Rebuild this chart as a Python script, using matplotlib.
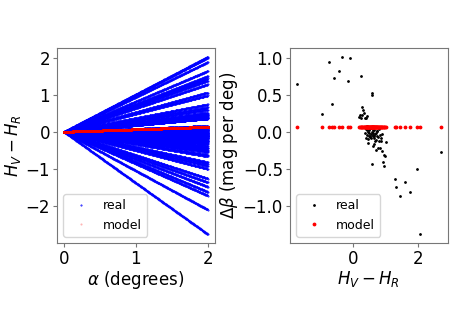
import numpy as np
import matplotlib
matplotlib.use("Agg")
import matplotlib.pyplot as plt

# colour index H_V - H_R of each object (right panel x)
color_vr = [-1.71, -0.93, -0.72, -0.62, -0.58, -0.41, -0.34, -0.15, -0.08, 0.26,
            0.60, 0.58, 2.70, 1.97, 1.29, 1.62, 1.34, 1.75, 1.45, 2.07,
            0.59, 0.97, 0.92, 0.96, 0.99, 0.90, 1.03, 0.85, 0.72, 0.67,
            0.46, 0.68, 0.64, 0.81, 0.88, 0.78,
            0.20, 0.24, 0.28, 0.32, 0.35, 0.30, 0.38, 0.42, 0.25, 0.44,
            0.36, 0.40, 0.45, 0.50, 0.55, 0.60, 0.65, 0.70, 0.75, 0.80,
            0.38, 0.43, 0.48, 0.52, 0.57, 0.62, 0.67, 0.72, 0.78, 0.84,
            0.41, 0.46, 0.51, 0.56, 0.61, 0.66, 0.71, 0.76, 0.86, 0.90,
            0.44, 0.49, 0.54, 0.59, 0.64, 0.69, 0.74, 0.53, 0.58, 0.63]
# slope difference delta beta (mag per deg)
dbeta = [0.64, 0.24, 0.94, 0.37, 0.72, 0.82, 1.01, 0.69, 1.00, 0.75,
         0.53, 0.49, -0.27, -0.50, -0.63, -0.68, -0.74, -0.81, -0.86, -1.38,
         -0.43, -0.46, -0.41, -0.31, -0.33, -0.26, -0.14, -0.22, -0.25, -0.17,
         -0.15, -0.12, -0.19, -0.12, -0.13, -0.22,
         0.20, 0.23, 0.33, 0.30, 0.26, 0.22, 0.19, 0.18, 0.18, 0.21,
         0.06, 0.04, 0.08, 0.02, 0.05, 0.07, 0.03, 0.06, 0.01, 0.04,
         -0.02, -0.04, 0.00, -0.06, -0.03, -0.01, -0.05, -0.02, -0.07, -0.04,
         -0.08, -0.10, -0.06, -0.09, -0.04, -0.08, -0.11, -0.05, -0.09, -0.03,
         0.02, -0.01, 0.05, 0.00, 0.03, -0.03, 0.01, -0.07, 0.07, -0.05]
# extra slope seen only in the left panel
extra_slopes = [-1.05]
# model slope difference
model_dbeta = 0.066

alpha = np.linspace(0, 2, 400)
slopes = list(dbeta) + extra_slopes

plt.rcParams['font.family'] = 'DejaVu Sans'
fig = plt.figure(figsize=(4.63, 3.27), dpi=100)
ax1 = fig.add_axes([0.123, 0.257, 0.341, 0.596])
ax2 = fig.add_axes([0.626, 0.257, 0.341, 0.596])

FS = 12
LFS = 9

for i, s in enumerate(slopes):
    ax1.plot(alpha, s * alpha, 'b.', ms=0.9, label='real' if i == 0 else None)
for i in range(len(dbeta)):
    ax1.plot(alpha, model_dbeta * alpha, 'r.', ms=1.0, alpha=0.3,
             label='model' if i == 0 else None)
ax1.set_xlabel(r'$\alpha$ (degrees)', fontsize=FS, labelpad=1)
ax1.set_ylabel(r'$H_V - H_R$', fontsize=FS, labelpad=2)
ax1.set_xticks([0, 1, 2])
ax1.set_yticks([-2, -1, 0, 1, 2])
ax1.legend(loc='lower left', fontsize=LFS)

ax2.plot(color_vr, dbeta, 'k.', ms=2.0, label='real')
ax2.plot(color_vr, [model_dbeta] * len(color_vr), 'r.', ms=3.5, label='model')
ax2.set_xlabel(r'$H_V - H_R$', fontsize=FS, labelpad=1)
ax2.set_ylabel(r'$\Delta\beta$ (mag per deg)', fontsize=FS, labelpad=2)
ax2.set_xticks([0, 2])
ax2.set_yticks([-1.0, -0.5, 0.0, 0.5, 1.0])
ax2.legend(loc='lower left', fontsize=LFS)

for ax in (ax1, ax2):
    ax.tick_params(labelsize=FS, length=3, color='#777777', pad=2)
    for sp in ax.spines.values():
        sp.set_color('#777777')

fig.savefig('out.png', dpi=100)
